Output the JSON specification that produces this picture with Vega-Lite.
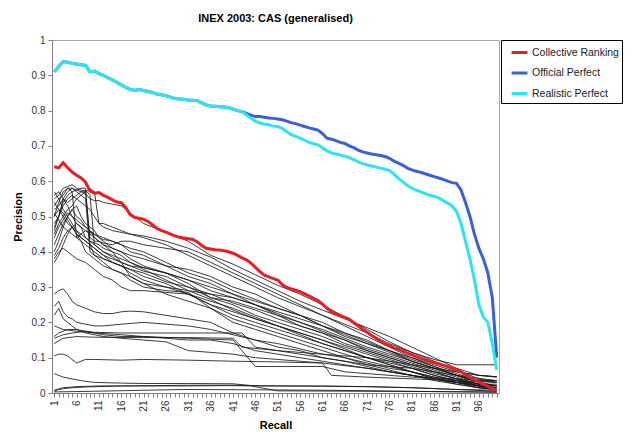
{
  "$schema": "https://vega.github.io/schema/vega-lite/v6.json",
  "width": 447,
  "height": 353,
  "padding": {"left": 12, "top": 13, "right": 3, "bottom": 8},
  "background": "white",
  "title": {"text": "INEX 2003: CAS (generalised)", "fontSize": 11, "fontWeight": "bold", "font": "Liberation Sans", "color": "#000000", "anchor": "middle", "frame": "group", "offset": 11},
  "datasets": {
    "runs": [
      {"s":"U1","r":1,"p":0.50},{"s":"U1","r":2,"p":0.54},{"s":"U1","r":3,"p":0.57},{"s":"U1","r":4,"p":0.58},{"s":"U1","r":5,"p":0.58},{"s":"U1","r":6,"p":0.575},{"s":"U1","r":7,"p":0.57},{"s":"U1","r":8,"p":0.565},{"s":"U1","r":9,"p":0.55},{"s":"U1","r":10,"p":0.545},{"s":"U1","r":11,"p":0.545},{"s":"U1","r":12,"p":0.54},{"s":"U1","r":14,"p":0.535},{"s":"U1","r":16,"p":0.53},{"s":"U1","r":18,"p":0.51},{"s":"U1","r":21,"p":0.48},{"s":"U1","r":26,"p":0.455},{"s":"U1","r":31,"p":0.43},{"s":"U1","r":36,"p":0.39},{"s":"U1","r":41,"p":0.365},{"s":"U1","r":46,"p":0.335},{"s":"U1","r":51,"p":0.305},{"s":"U1","r":56,"p":0.28},{"s":"U1","r":61,"p":0.25},{"s":"U1","r":66,"p":0.215},{"s":"U1","r":71,"p":0.18},{"s":"U1","r":76,"p":0.145},{"s":"U1","r":81,"p":0.115},{"s":"U1","r":86,"p":0.095},{"s":"U1","r":91,"p":0.08},{"s":"U1","r":96,"p":0.08},{"s":"U1","r":100,"p":0.08},
      {"s":"U2","r":1,"p":0.55},{"s":"U2","r":2,"p":0.56},{"s":"U2","r":3,"p":0.58},{"s":"U2","r":4,"p":0.585},{"s":"U2","r":5,"p":0.59},{"s":"U2","r":6,"p":0.58},{"s":"U2","r":7,"p":0.575},{"s":"U2","r":8,"p":0.57},{"s":"U2","r":9,"p":0.44},{"s":"U2","r":10,"p":0.43},{"s":"U2","r":11,"p":0.43},{"s":"U2","r":12,"p":0.425},{"s":"U2","r":14,"p":0.42},{"s":"U2","r":16,"p":0.43},{"s":"U2","r":18,"p":0.43},{"s":"U2","r":21,"p":0.42},{"s":"U2","r":26,"p":0.41},{"s":"U2","r":31,"p":0.40},{"s":"U2","r":36,"p":0.37},{"s":"U2","r":41,"p":0.34},{"s":"U2","r":46,"p":0.31},{"s":"U2","r":51,"p":0.28},{"s":"U2","r":56,"p":0.25},{"s":"U2","r":61,"p":0.22},{"s":"U2","r":66,"p":0.19},{"s":"U2","r":71,"p":0.16},{"s":"U2","r":76,"p":0.13},{"s":"U2","r":81,"p":0.10},{"s":"U2","r":86,"p":0.075},{"s":"U2","r":91,"p":0.05},{"s":"U2","r":96,"p":0.03},{"s":"U2","r":100,"p":0.02},
      {"s":"U3","r":1,"p":0.57},{"s":"U3","r":2,"p":0.55},{"s":"U3","r":3,"p":0.56},{"s":"U3","r":4,"p":0.58},{"s":"U3","r":5,"p":0.57},{"s":"U3","r":6,"p":0.44},{"s":"U3","r":7,"p":0.45},{"s":"U3","r":8,"p":0.46},{"s":"U3","r":9,"p":0.45},{"s":"U3","r":10,"p":0.44},{"s":"U3","r":11,"p":0.43},{"s":"U3","r":12,"p":0.42},{"s":"U3","r":14,"p":0.41},{"s":"U3","r":16,"p":0.40},{"s":"U3","r":18,"p":0.39},{"s":"U3","r":21,"p":0.38},{"s":"U3","r":26,"p":0.36},{"s":"U3","r":31,"p":0.35},{"s":"U3","r":36,"p":0.33},{"s":"U3","r":41,"p":0.30},{"s":"U3","r":46,"p":0.28},{"s":"U3","r":51,"p":0.25},{"s":"U3","r":56,"p":0.22},{"s":"U3","r":61,"p":0.19},{"s":"U3","r":66,"p":0.16},{"s":"U3","r":71,"p":0.14},{"s":"U3","r":76,"p":0.12},{"s":"U3","r":81,"p":0.09},{"s":"U3","r":86,"p":0.07},{"s":"U3","r":91,"p":0.05},{"s":"U3","r":96,"p":0.03},{"s":"U3","r":100,"p":0.01},
      {"s":"U4","r":1,"p":0.52},{"s":"U4","r":2,"p":0.53},{"s":"U4","r":3,"p":0.55},{"s":"U4","r":4,"p":0.54},{"s":"U4","r":5,"p":0.55},{"s":"U4","r":6,"p":0.56},{"s":"U4","r":7,"p":0.57},{"s":"U4","r":8,"p":0.575},{"s":"U4","r":9,"p":0.56},{"s":"U4","r":10,"p":0.42},{"s":"U4","r":11,"p":0.41},{"s":"U4","r":12,"p":0.40},{"s":"U4","r":14,"p":0.39},{"s":"U4","r":16,"p":0.38},{"s":"U4","r":18,"p":0.37},{"s":"U4","r":21,"p":0.355},{"s":"U4","r":26,"p":0.34},{"s":"U4","r":31,"p":0.32},{"s":"U4","r":36,"p":0.29},{"s":"U4","r":41,"p":0.27},{"s":"U4","r":46,"p":0.25},{"s":"U4","r":51,"p":0.22},{"s":"U4","r":56,"p":0.19},{"s":"U4","r":61,"p":0.17},{"s":"U4","r":66,"p":0.14},{"s":"U4","r":71,"p":0.12},{"s":"U4","r":76,"p":0.10},{"s":"U4","r":81,"p":0.08},{"s":"U4","r":86,"p":0.06},{"s":"U4","r":91,"p":0.04},{"s":"U4","r":96,"p":0.02},{"s":"U4","r":100,"p":0.01},
      {"s":"U5","r":1,"p":0.45},{"s":"U5","r":2,"p":0.48},{"s":"U5","r":3,"p":0.50},{"s":"U5","r":4,"p":0.52},{"s":"U5","r":5,"p":0.53},{"s":"U5","r":6,"p":0.55},{"s":"U5","r":7,"p":0.56},{"s":"U5","r":8,"p":0.57},{"s":"U5","r":9,"p":0.58},{"s":"U5","r":10,"p":0.57},{"s":"U5","r":11,"p":0.48},{"s":"U5","r":12,"p":0.48},{"s":"U5","r":14,"p":0.47},{"s":"U5","r":16,"p":0.46},{"s":"U5","r":18,"p":0.45},{"s":"U5","r":21,"p":0.44},{"s":"U5","r":26,"p":0.42},{"s":"U5","r":31,"p":0.39},{"s":"U5","r":36,"p":0.36},{"s":"U5","r":41,"p":0.33},{"s":"U5","r":46,"p":0.30},{"s":"U5","r":51,"p":0.27},{"s":"U5","r":56,"p":0.245},{"s":"U5","r":61,"p":0.22},{"s":"U5","r":66,"p":0.195},{"s":"U5","r":71,"p":0.17},{"s":"U5","r":76,"p":0.14},{"s":"U5","r":81,"p":0.115},{"s":"U5","r":86,"p":0.09},{"s":"U5","r":91,"p":0.065},{"s":"U5","r":96,"p":0.04},{"s":"U5","r":100,"p":0.03},
      {"s":"U6","r":1,"p":0.48},{"s":"U6","r":2,"p":0.50},{"s":"U6","r":3,"p":0.53},{"s":"U6","r":4,"p":0.55},{"s":"U6","r":5,"p":0.56},{"s":"U6","r":6,"p":0.55},{"s":"U6","r":7,"p":0.54},{"s":"U6","r":8,"p":0.53},{"s":"U6","r":9,"p":0.52},{"s":"U6","r":10,"p":0.50},{"s":"U6","r":11,"p":0.48},{"s":"U6","r":12,"p":0.47},{"s":"U6","r":14,"p":0.46},{"s":"U6","r":16,"p":0.455},{"s":"U6","r":18,"p":0.45},{"s":"U6","r":21,"p":0.445},{"s":"U6","r":26,"p":0.43},{"s":"U6","r":31,"p":0.41},{"s":"U6","r":36,"p":0.385},{"s":"U6","r":41,"p":0.35},{"s":"U6","r":46,"p":0.32},{"s":"U6","r":51,"p":0.29},{"s":"U6","r":56,"p":0.26},{"s":"U6","r":61,"p":0.235},{"s":"U6","r":66,"p":0.21},{"s":"U6","r":71,"p":0.185},{"s":"U6","r":76,"p":0.16},{"s":"U6","r":81,"p":0.13},{"s":"U6","r":86,"p":0.10},{"s":"U6","r":91,"p":0.07},{"s":"U6","r":96,"p":0.05},{"s":"U6","r":100,"p":0.046},
      {"s":"U7","r":1,"p":0.40},{"s":"U7","r":2,"p":0.43},{"s":"U7","r":3,"p":0.47},{"s":"U7","r":4,"p":0.50},{"s":"U7","r":5,"p":0.52},{"s":"U7","r":6,"p":0.50},{"s":"U7","r":7,"p":0.49},{"s":"U7","r":8,"p":0.47},{"s":"U7","r":9,"p":0.46},{"s":"U7","r":10,"p":0.45},{"s":"U7","r":11,"p":0.44},{"s":"U7","r":12,"p":0.435},{"s":"U7","r":14,"p":0.43},{"s":"U7","r":16,"p":0.42},{"s":"U7","r":18,"p":0.41},{"s":"U7","r":21,"p":0.40},{"s":"U7","r":26,"p":0.37},{"s":"U7","r":31,"p":0.34},{"s":"U7","r":36,"p":0.32},{"s":"U7","r":41,"p":0.29},{"s":"U7","r":46,"p":0.265},{"s":"U7","r":51,"p":0.24},{"s":"U7","r":56,"p":0.22},{"s":"U7","r":61,"p":0.19},{"s":"U7","r":66,"p":0.165},{"s":"U7","r":71,"p":0.14},{"s":"U7","r":76,"p":0.115},{"s":"U7","r":81,"p":0.09},{"s":"U7","r":86,"p":0.07},{"s":"U7","r":91,"p":0.05},{"s":"U7","r":96,"p":0.035},{"s":"U7","r":100,"p":0.035},
      {"s":"U8","r":1,"p":0.37},{"s":"U8","r":2,"p":0.39},{"s":"U8","r":3,"p":0.42},{"s":"U8","r":4,"p":0.45},{"s":"U8","r":5,"p":0.47},{"s":"U8","r":6,"p":0.48},{"s":"U8","r":7,"p":0.47},{"s":"U8","r":8,"p":0.44},{"s":"U8","r":9,"p":0.43},{"s":"U8","r":10,"p":0.42},{"s":"U8","r":11,"p":0.41},{"s":"U8","r":12,"p":0.40},{"s":"U8","r":14,"p":0.385},{"s":"U8","r":16,"p":0.37},{"s":"U8","r":18,"p":0.36},{"s":"U8","r":21,"p":0.345},{"s":"U8","r":26,"p":0.33},{"s":"U8","r":31,"p":0.30},{"s":"U8","r":36,"p":0.28},{"s":"U8","r":41,"p":0.255},{"s":"U8","r":46,"p":0.235},{"s":"U8","r":51,"p":0.21},{"s":"U8","r":56,"p":0.19},{"s":"U8","r":61,"p":0.17},{"s":"U8","r":66,"p":0.15},{"s":"U8","r":71,"p":0.12},{"s":"U8","r":76,"p":0.10},{"s":"U8","r":81,"p":0.08},{"s":"U8","r":86,"p":0.06},{"s":"U8","r":91,"p":0.04},{"s":"U8","r":96,"p":0.025},{"s":"U8","r":100,"p":0.025},
      {"s":"U9","r":1,"p":0.53},{"s":"U9","r":2,"p":0.55},{"s":"U9","r":3,"p":0.52},{"s":"U9","r":4,"p":0.50},{"s":"U9","r":5,"p":0.48},{"s":"U9","r":6,"p":0.46},{"s":"U9","r":7,"p":0.45},{"s":"U9","r":8,"p":0.44},{"s":"U9","r":9,"p":0.43},{"s":"U9","r":10,"p":0.425},{"s":"U9","r":11,"p":0.42},{"s":"U9","r":12,"p":0.41},{"s":"U9","r":14,"p":0.40},{"s":"U9","r":16,"p":0.39},{"s":"U9","r":18,"p":0.37},{"s":"U9","r":21,"p":0.35},{"s":"U9","r":26,"p":0.32},{"s":"U9","r":31,"p":0.29},{"s":"U9","r":36,"p":0.265},{"s":"U9","r":41,"p":0.235},{"s":"U9","r":46,"p":0.21},{"s":"U9","r":51,"p":0.19},{"s":"U9","r":56,"p":0.165},{"s":"U9","r":61,"p":0.14},{"s":"U9","r":66,"p":0.12},{"s":"U9","r":71,"p":0.10},{"s":"U9","r":76,"p":0.08},{"s":"U9","r":81,"p":0.06},{"s":"U9","r":86,"p":0.04},{"s":"U9","r":91,"p":0.025},{"s":"U9","r":96,"p":0.015},{"s":"U9","r":100,"p":0.01},
      {"s":"U10","r":1,"p":0.56},{"s":"U10","r":2,"p":0.57},{"s":"U10","r":3,"p":0.55},{"s":"U10","r":4,"p":0.53},{"s":"U10","r":5,"p":0.50},{"s":"U10","r":6,"p":0.48},{"s":"U10","r":7,"p":0.47},{"s":"U10","r":8,"p":0.46},{"s":"U10","r":9,"p":0.455},{"s":"U10","r":10,"p":0.45},{"s":"U10","r":11,"p":0.445},{"s":"U10","r":12,"p":0.44},{"s":"U10","r":14,"p":0.43},{"s":"U10","r":16,"p":0.42},{"s":"U10","r":18,"p":0.40},{"s":"U10","r":21,"p":0.39},{"s":"U10","r":26,"p":0.36},{"s":"U10","r":31,"p":0.33},{"s":"U10","r":36,"p":0.31},{"s":"U10","r":41,"p":0.28},{"s":"U10","r":46,"p":0.25},{"s":"U10","r":51,"p":0.225},{"s":"U10","r":56,"p":0.20},{"s":"U10","r":61,"p":0.175},{"s":"U10","r":66,"p":0.15},{"s":"U10","r":71,"p":0.125},{"s":"U10","r":76,"p":0.105},{"s":"U10","r":81,"p":0.085},{"s":"U10","r":86,"p":0.065},{"s":"U10","r":91,"p":0.045},{"s":"U10","r":96,"p":0.025},{"s":"U10","r":100,"p":0.015},
      {"s":"U11","r":1,"p":0.51},{"s":"U11","r":2,"p":0.49},{"s":"U11","r":3,"p":0.47},{"s":"U11","r":4,"p":0.46},{"s":"U11","r":5,"p":0.45},{"s":"U11","r":6,"p":0.44},{"s":"U11","r":7,"p":0.43},{"s":"U11","r":8,"p":0.42},{"s":"U11","r":9,"p":0.41},{"s":"U11","r":10,"p":0.40},{"s":"U11","r":11,"p":0.39},{"s":"U11","r":12,"p":0.38},{"s":"U11","r":14,"p":0.37},{"s":"U11","r":16,"p":0.36},{"s":"U11","r":18,"p":0.35},{"s":"U11","r":21,"p":0.33},{"s":"U11","r":26,"p":0.31},{"s":"U11","r":31,"p":0.28},{"s":"U11","r":36,"p":0.26},{"s":"U11","r":41,"p":0.24},{"s":"U11","r":46,"p":0.215},{"s":"U11","r":51,"p":0.19},{"s":"U11","r":56,"p":0.17},{"s":"U11","r":61,"p":0.15},{"s":"U11","r":66,"p":0.13},{"s":"U11","r":71,"p":0.11},{"s":"U11","r":76,"p":0.09},{"s":"U11","r":81,"p":0.07},{"s":"U11","r":86,"p":0.05},{"s":"U11","r":91,"p":0.035},{"s":"U11","r":96,"p":0.02},{"s":"U11","r":100,"p":0.01},
      {"s":"U12","r":1,"p":0.46},{"s":"U12","r":2,"p":0.50},{"s":"U12","r":3,"p":0.54},{"s":"U12","r":4,"p":0.56},{"s":"U12","r":5,"p":0.57},{"s":"U12","r":6,"p":0.575},{"s":"U12","r":7,"p":0.58},{"s":"U12","r":8,"p":0.58},{"s":"U12","r":9,"p":0.42},{"s":"U12","r":10,"p":0.41},{"s":"U12","r":11,"p":0.40},{"s":"U12","r":12,"p":0.39},{"s":"U12","r":14,"p":0.37},{"s":"U12","r":16,"p":0.36},{"s":"U12","r":18,"p":0.34},{"s":"U12","r":21,"p":0.32},{"s":"U12","r":26,"p":0.30},{"s":"U12","r":31,"p":0.28},{"s":"U12","r":36,"p":0.25},{"s":"U12","r":41,"p":0.22},{"s":"U12","r":46,"p":0.20},{"s":"U12","r":51,"p":0.18},{"s":"U12","r":56,"p":0.16},{"s":"U12","r":61,"p":0.14},{"s":"U12","r":66,"p":0.12},{"s":"U12","r":71,"p":0.10},{"s":"U12","r":76,"p":0.085},{"s":"U12","r":81,"p":0.07},{"s":"U12","r":86,"p":0.05},{"s":"U12","r":91,"p":0.035},{"s":"U12","r":96,"p":0.02},{"s":"U12","r":100,"p":0.01},
      {"s":"U13","r":1,"p":0.42},{"s":"U13","r":2,"p":0.45},{"s":"U13","r":3,"p":0.48},{"s":"U13","r":4,"p":0.50},{"s":"U13","r":5,"p":0.52},{"s":"U13","r":6,"p":0.53},{"s":"U13","r":7,"p":0.50},{"s":"U13","r":8,"p":0.48},{"s":"U13","r":9,"p":0.47},{"s":"U13","r":10,"p":0.46},{"s":"U13","r":11,"p":0.44},{"s":"U13","r":12,"p":0.43},{"s":"U13","r":14,"p":0.41},{"s":"U13","r":16,"p":0.40},{"s":"U13","r":18,"p":0.38},{"s":"U13","r":21,"p":0.36},{"s":"U13","r":26,"p":0.34},{"s":"U13","r":31,"p":0.31},{"s":"U13","r":36,"p":0.27},{"s":"U13","r":41,"p":0.26},{"s":"U13","r":46,"p":0.24},{"s":"U13","r":51,"p":0.22},{"s":"U13","r":56,"p":0.20},{"s":"U13","r":61,"p":0.18},{"s":"U13","r":66,"p":0.155},{"s":"U13","r":71,"p":0.13},{"s":"U13","r":76,"p":0.11},{"s":"U13","r":81,"p":0.09},{"s":"U13","r":86,"p":0.07},{"s":"U13","r":91,"p":0.05},{"s":"U13","r":96,"p":0.03},{"s":"U13","r":100,"p":0.02},
      {"s":"U14","r":1,"p":0.39},{"s":"U14","r":2,"p":0.41},{"s":"U14","r":3,"p":0.44},{"s":"U14","r":4,"p":0.46},{"s":"U14","r":5,"p":0.47},{"s":"U14","r":6,"p":0.45},{"s":"U14","r":7,"p":0.43},{"s":"U14","r":8,"p":0.40},{"s":"U14","r":9,"p":0.39},{"s":"U14","r":10,"p":0.38},{"s":"U14","r":11,"p":0.37},{"s":"U14","r":12,"p":0.36},{"s":"U14","r":14,"p":0.35},{"s":"U14","r":16,"p":0.34},{"s":"U14","r":18,"p":0.33},{"s":"U14","r":21,"p":0.31},{"s":"U14","r":26,"p":0.28},{"s":"U14","r":31,"p":0.26},{"s":"U14","r":36,"p":0.24},{"s":"U14","r":41,"p":0.21},{"s":"U14","r":46,"p":0.19},{"s":"U14","r":51,"p":0.17},{"s":"U14","r":56,"p":0.15},{"s":"U14","r":61,"p":0.13},{"s":"U14","r":66,"p":0.11},{"s":"U14","r":71,"p":0.09},{"s":"U14","r":76,"p":0.075},{"s":"U14","r":81,"p":0.06},{"s":"U14","r":86,"p":0.04},{"s":"U14","r":91,"p":0.03},{"s":"U14","r":96,"p":0.015},{"s":"U14","r":100,"p":0.01},
      {"s":"U15","r":1,"p":0.50},{"s":"U15","r":2,"p":0.52},{"s":"U15","r":3,"p":0.50},{"s":"U15","r":4,"p":0.48},{"s":"U15","r":5,"p":0.47},{"s":"U15","r":6,"p":0.46},{"s":"U15","r":7,"p":0.44},{"s":"U15","r":8,"p":0.43},{"s":"U15","r":9,"p":0.42},{"s":"U15","r":10,"p":0.39},{"s":"U15","r":11,"p":0.38},{"s":"U15","r":12,"p":0.37},{"s":"U15","r":14,"p":0.35},{"s":"U15","r":16,"p":0.34},{"s":"U15","r":18,"p":0.32},{"s":"U15","r":21,"p":0.30},{"s":"U15","r":26,"p":0.29},{"s":"U15","r":31,"p":0.285},{"s":"U15","r":36,"p":0.24},{"s":"U15","r":41,"p":0.20},{"s":"U15","r":46,"p":0.18},{"s":"U15","r":51,"p":0.16},{"s":"U15","r":56,"p":0.14},{"s":"U15","r":61,"p":0.12},{"s":"U15","r":66,"p":0.10},{"s":"U15","r":71,"p":0.08},{"s":"U15","r":76,"p":0.065},{"s":"U15","r":81,"p":0.05},{"s":"U15","r":86,"p":0.035},{"s":"U15","r":91,"p":0.025},{"s":"U15","r":96,"p":0.015},{"s":"U15","r":100,"p":0.01},
      {"s":"U16","r":1,"p":0.44},{"s":"U16","r":2,"p":0.47},{"s":"U16","r":3,"p":0.49},{"s":"U16","r":4,"p":0.51},{"s":"U16","r":5,"p":0.50},{"s":"U16","r":6,"p":0.49},{"s":"U16","r":7,"p":0.48},{"s":"U16","r":8,"p":0.47},{"s":"U16","r":9,"p":0.46},{"s":"U16","r":10,"p":0.44},{"s":"U16","r":11,"p":0.43},{"s":"U16","r":12,"p":0.42},{"s":"U16","r":14,"p":0.40},{"s":"U16","r":16,"p":0.37},{"s":"U16","r":18,"p":0.33},{"s":"U16","r":21,"p":0.31},{"s":"U16","r":26,"p":0.30},{"s":"U16","r":31,"p":0.29},{"s":"U16","r":36,"p":0.28},{"s":"U16","r":41,"p":0.27},{"s":"U16","r":46,"p":0.25},{"s":"U16","r":51,"p":0.23},{"s":"U16","r":56,"p":0.21},{"s":"U16","r":61,"p":0.19},{"s":"U16","r":66,"p":0.17},{"s":"U16","r":71,"p":0.15},{"s":"U16","r":76,"p":0.12},{"s":"U16","r":81,"p":0.10},{"s":"U16","r":86,"p":0.08},{"s":"U16","r":91,"p":0.06},{"s":"U16","r":96,"p":0.05},{"s":"U16","r":100,"p":0.046},
      {"s":"U17","r":1,"p":0.54},{"s":"U17","r":2,"p":0.52},{"s":"U17","r":3,"p":0.51},{"s":"U17","r":4,"p":0.49},{"s":"U17","r":5,"p":0.47},{"s":"U17","r":6,"p":0.45},{"s":"U17","r":7,"p":0.44},{"s":"U17","r":8,"p":0.43},{"s":"U17","r":9,"p":0.42},{"s":"U17","r":10,"p":0.41},{"s":"U17","r":11,"p":0.40},{"s":"U17","r":12,"p":0.39},{"s":"U17","r":14,"p":0.38},{"s":"U17","r":16,"p":0.37},{"s":"U17","r":18,"p":0.36},{"s":"U17","r":21,"p":0.355},{"s":"U17","r":26,"p":0.34},{"s":"U17","r":31,"p":0.32},{"s":"U17","r":36,"p":0.30},{"s":"U17","r":41,"p":0.28},{"s":"U17","r":46,"p":0.26},{"s":"U17","r":51,"p":0.24},{"s":"U17","r":56,"p":0.22},{"s":"U17","r":61,"p":0.20},{"s":"U17","r":66,"p":0.17},{"s":"U17","r":71,"p":0.145},{"s":"U17","r":76,"p":0.12},{"s":"U17","r":81,"p":0.095},{"s":"U17","r":86,"p":0.075},{"s":"U17","r":91,"p":0.055},{"s":"U17","r":96,"p":0.035},{"s":"U17","r":100,"p":0.03},
      {"s":"U18","r":1,"p":0.47},{"s":"U18","r":2,"p":0.50},{"s":"U18","r":3,"p":0.55},{"s":"U18","r":4,"p":0.57},{"s":"U18","r":5,"p":0.58},{"s":"U18","r":6,"p":0.57},{"s":"U18","r":7,"p":0.56},{"s":"U18","r":8,"p":0.55},{"s":"U18","r":9,"p":0.40},{"s":"U18","r":10,"p":0.39},{"s":"U18","r":11,"p":0.385},{"s":"U18","r":12,"p":0.38},{"s":"U18","r":14,"p":0.37},{"s":"U18","r":16,"p":0.36},{"s":"U18","r":18,"p":0.35},{"s":"U18","r":21,"p":0.34},{"s":"U18","r":26,"p":0.315},{"s":"U18","r":31,"p":0.30},{"s":"U18","r":36,"p":0.27},{"s":"U18","r":41,"p":0.25},{"s":"U18","r":46,"p":0.22},{"s":"U18","r":51,"p":0.20},{"s":"U18","r":56,"p":0.18},{"s":"U18","r":61,"p":0.16},{"s":"U18","r":66,"p":0.135},{"s":"U18","r":71,"p":0.115},{"s":"U18","r":76,"p":0.095},{"s":"U18","r":81,"p":0.075},{"s":"U18","r":86,"p":0.055},{"s":"U18","r":91,"p":0.04},{"s":"U18","r":96,"p":0.025},{"s":"U18","r":100,"p":0.02},
      {"s":"U19","r":1,"p":0.38},{"s":"U19","r":2,"p":0.40},{"s":"U19","r":3,"p":0.41},{"s":"U19","r":4,"p":0.40},{"s":"U19","r":5,"p":0.39},{"s":"U19","r":6,"p":0.38},{"s":"U19","r":7,"p":0.375},{"s":"U19","r":8,"p":0.37},{"s":"U19","r":9,"p":0.36},{"s":"U19","r":10,"p":0.35},{"s":"U19","r":11,"p":0.34},{"s":"U19","r":12,"p":0.33},{"s":"U19","r":14,"p":0.32},{"s":"U19","r":16,"p":0.30},{"s":"U19","r":18,"p":0.29},{"s":"U19","r":21,"p":0.29},{"s":"U19","r":26,"p":0.285},{"s":"U19","r":31,"p":0.28},{"s":"U19","r":36,"p":0.25},{"s":"U19","r":41,"p":0.23},{"s":"U19","r":46,"p":0.21},{"s":"U19","r":51,"p":0.19},{"s":"U19","r":56,"p":0.17},{"s":"U19","r":61,"p":0.15},{"s":"U19","r":66,"p":0.125},{"s":"U19","r":71,"p":0.10},{"s":"U19","r":76,"p":0.08},{"s":"U19","r":81,"p":0.06},{"s":"U19","r":86,"p":0.045},{"s":"U19","r":91,"p":0.03},{"s":"U19","r":96,"p":0.02},{"s":"U19","r":100,"p":0.01},
      {"s":"L1","r":1,"p":0.28},{"s":"L1","r":2,"p":0.29},{"s":"L1","r":3,"p":0.295},{"s":"L1","r":4,"p":0.28},{"s":"L1","r":5,"p":0.26},{"s":"L1","r":6,"p":0.25},{"s":"L1","r":8,"p":0.24},{"s":"L1","r":10,"p":0.23},{"s":"L1","r":12,"p":0.225},{"s":"L1","r":14,"p":0.225},{"s":"L1","r":16,"p":0.23},{"s":"L1","r":18,"p":0.232},{"s":"L1","r":21,"p":0.23},{"s":"L1","r":26,"p":0.22},{"s":"L1","r":31,"p":0.21},{"s":"L1","r":36,"p":0.20},{"s":"L1","r":41,"p":0.17},{"s":"L1","r":46,"p":0.15},{"s":"L1","r":51,"p":0.13},{"s":"L1","r":56,"p":0.12},{"s":"L1","r":61,"p":0.10},{"s":"L1","r":66,"p":0.09},{"s":"L1","r":71,"p":0.075},{"s":"L1","r":76,"p":0.06},{"s":"L1","r":81,"p":0.05},{"s":"L1","r":86,"p":0.04},{"s":"L1","r":91,"p":0.03},{"s":"L1","r":96,"p":0.02},{"s":"L1","r":100,"p":0.01},
      {"s":"L2","r":1,"p":0.245},{"s":"L2","r":2,"p":0.26},{"s":"L2","r":3,"p":0.23},{"s":"L2","r":4,"p":0.215},{"s":"L2","r":5,"p":0.21},{"s":"L2","r":6,"p":0.20},{"s":"L2","r":8,"p":0.195},{"s":"L2","r":10,"p":0.19},{"s":"L2","r":12,"p":0.19},{"s":"L2","r":16,"p":0.195},{"s":"L2","r":21,"p":0.20},{"s":"L2","r":26,"p":0.195},{"s":"L2","r":31,"p":0.19},{"s":"L2","r":36,"p":0.18},{"s":"L2","r":41,"p":0.165},{"s":"L2","r":46,"p":0.15},{"s":"L2","r":51,"p":0.14},{"s":"L2","r":56,"p":0.125},{"s":"L2","r":61,"p":0.11},{"s":"L2","r":66,"p":0.10},{"s":"L2","r":71,"p":0.085},{"s":"L2","r":76,"p":0.07},{"s":"L2","r":81,"p":0.06},{"s":"L2","r":86,"p":0.045},{"s":"L2","r":91,"p":0.035},{"s":"L2","r":96,"p":0.025},{"s":"L2","r":100,"p":0.02},
      {"s":"L3","r":1,"p":0.22},{"s":"L3","r":2,"p":0.24},{"s":"L3","r":3,"p":0.21},{"s":"L3","r":4,"p":0.20},{"s":"L3","r":5,"p":0.19},{"s":"L3","r":6,"p":0.18},{"s":"L3","r":8,"p":0.175},{"s":"L3","r":10,"p":0.17},{"s":"L3","r":12,"p":0.165},{"s":"L3","r":16,"p":0.16},{"s":"L3","r":21,"p":0.16},{"s":"L3","r":26,"p":0.155},{"s":"L3","r":31,"p":0.15},{"s":"L3","r":36,"p":0.15},{"s":"L3","r":41,"p":0.14},{"s":"L3","r":46,"p":0.12},{"s":"L3","r":51,"p":0.11},{"s":"L3","r":56,"p":0.10},{"s":"L3","r":61,"p":0.09},{"s":"L3","r":66,"p":0.08},{"s":"L3","r":71,"p":0.07},{"s":"L3","r":76,"p":0.06},{"s":"L3","r":81,"p":0.05},{"s":"L3","r":86,"p":0.04},{"s":"L3","r":91,"p":0.03},{"s":"L3","r":96,"p":0.02},{"s":"L3","r":100,"p":0.01},
      {"s":"L4","r":1,"p":0.155},{"s":"L4","r":3,"p":0.165},{"s":"L4","r":5,"p":0.17},{"s":"L4","r":8,"p":0.175},{"s":"L4","r":10,"p":0.172},{"s":"L4","r":16,"p":0.17},{"s":"L4","r":21,"p":0.17},{"s":"L4","r":31,"p":0.17},{"s":"L4","r":41,"p":0.17},{"s":"L4","r":43,"p":0.17},{"s":"L4","r":46,"p":0.13},{"s":"L4","r":51,"p":0.12},{"s":"L4","r":61,"p":0.11},{"s":"L4","r":71,"p":0.10},{"s":"L4","r":81,"p":0.08},{"s":"L4","r":91,"p":0.06},{"s":"L4","r":96,"p":0.05},{"s":"L4","r":100,"p":0.045},
      {"s":"L5","r":1,"p":0.14},{"s":"L5","r":3,"p":0.155},{"s":"L5","r":6,"p":0.16},{"s":"L5","r":10,"p":0.158},{"s":"L5","r":21,"p":0.157},{"s":"L5","r":31,"p":0.157},{"s":"L5","r":41,"p":0.155},{"s":"L5","r":43,"p":0.13},{"s":"L5","r":51,"p":0.12},{"s":"L5","r":61,"p":0.10},{"s":"L5","r":71,"p":0.08},{"s":"L5","r":81,"p":0.07},{"s":"L5","r":91,"p":0.05},{"s":"L5","r":100,"p":0.035},
      {"s":"L6","r":1,"p":0.16},{"s":"L6","r":2,"p":0.17},{"s":"L6","r":4,"p":0.18},{"s":"L6","r":6,"p":0.18},{"s":"L6","r":8,"p":0.17},{"s":"L6","r":10,"p":0.165},{"s":"L6","r":12,"p":0.16},{"s":"L6","r":16,"p":0.155},{"s":"L6","r":21,"p":0.15},{"s":"L6","r":26,"p":0.145},{"s":"L6","r":31,"p":0.12},{"s":"L6","r":36,"p":0.115},{"s":"L6","r":41,"p":0.11},{"s":"L6","r":46,"p":0.10},{"s":"L6","r":51,"p":0.095},{"s":"L6","r":61,"p":0.085},{"s":"L6","r":71,"p":0.07},{"s":"L6","r":81,"p":0.05},{"s":"L6","r":91,"p":0.03},{"s":"L6","r":100,"p":0.015},
      {"s":"L7","r":1,"p":0.105},{"s":"L7","r":2,"p":0.11},{"s":"L7","r":3,"p":0.11},{"s":"L7","r":4,"p":0.105},{"s":"L7","r":5,"p":0.095},{"s":"L7","r":6,"p":0.085},{"s":"L7","r":7,"p":0.09},{"s":"L7","r":8,"p":0.095},{"s":"L7","r":10,"p":0.095},{"s":"L7","r":16,"p":0.093},{"s":"L7","r":21,"p":0.095},{"s":"L7","r":31,"p":0.093},{"s":"L7","r":41,"p":0.09},{"s":"L7","r":51,"p":0.088},{"s":"L7","r":61,"p":0.085},{"s":"L7","r":63,"p":0.05},{"s":"L7","r":71,"p":0.045},{"s":"L7","r":81,"p":0.04},{"s":"L7","r":91,"p":0.035},{"s":"L7","r":100,"p":0.03},
      {"s":"L8","r":1,"p":0.055},{"s":"L8","r":3,"p":0.045},{"s":"L8","r":5,"p":0.04},{"s":"L8","r":7,"p":0.035},{"s":"L8","r":10,"p":0.03},{"s":"L8","r":16,"p":0.028},{"s":"L8","r":21,"p":0.027},{"s":"L8","r":31,"p":0.027},{"s":"L8","r":41,"p":0.026},{"s":"L8","r":46,"p":0.02},{"s":"L8","r":51,"p":0.02},{"s":"L8","r":61,"p":0.019},{"s":"L8","r":71,"p":0.018},{"s":"L8","r":81,"p":0.015},{"s":"L8","r":91,"p":0.01},{"s":"L8","r":100,"p":0.005},
      {"s":"L9","r":1,"p":0.005},{"s":"L9","r":2,"p":0.01},{"s":"L9","r":3,"p":0.012},{"s":"L9","r":5,"p":0.015},{"s":"L9","r":8,"p":0.017},{"s":"L9","r":16,"p":0.02},{"s":"L9","r":31,"p":0.022},{"s":"L9","r":41,"p":0.022},{"s":"L9","r":51,"p":0.02},{"s":"L9","r":61,"p":0.02},{"s":"L9","r":71,"p":0.018},{"s":"L9","r":81,"p":0.015},{"s":"L9","r":91,"p":0.01},{"s":"L9","r":100,"p":0.008},
      {"s":"L10","r":1,"p":0.008},{"s":"L10","r":3,"p":0.015},{"s":"L10","r":6,"p":0.018},{"s":"L10","r":11,"p":0.02},{"s":"L10","r":21,"p":0.02},{"s":"L10","r":31,"p":0.02},{"s":"L10","r":41,"p":0.021},{"s":"L10","r":45,"p":0.02},{"s":"L10","r":51,"p":0.006},{"s":"L10","r":71,"p":0.005},{"s":"L10","r":100,"p":0.003},
      {"s":"L11","r":1,"p":0.003},{"s":"L11","r":10,"p":0.005},{"s":"L11","r":30,"p":0.01},{"s":"L11","r":60,"p":0.008},{"s":"L11","r":100,"p":0.002},
      {"s":"L12","r":1,"p":0.19},{"s":"L12","r":3,"p":0.18},{"s":"L12","r":6,"p":0.175},{"s":"L12","r":10,"p":0.17},{"s":"L12","r":16,"p":0.165},{"s":"L12","r":21,"p":0.16},{"s":"L12","r":31,"p":0.155},{"s":"L12","r":41,"p":0.15},{"s":"L12","r":46,"p":0.075},{"s":"L12","r":61,"p":0.075},{"s":"L12","r":66,"p":0.06},{"s":"L12","r":81,"p":0.045},{"s":"L12","r":91,"p":0.04},{"s":"L12","r":100,"p":0.035}
    ],
    "curves": [
      {"s":"Collective Ranking","r":1,"p":0.641},{"s":"Collective Ranking","r":2,"p":0.638},{"s":"Collective Ranking","r":3,"p":0.652},{"s":"Collective Ranking","r":4,"p":0.638},{"s":"Collective Ranking","r":5,"p":0.626},{"s":"Collective Ranking","r":6,"p":0.617},{"s":"Collective Ranking","r":7,"p":0.609},{"s":"Collective Ranking","r":8,"p":0.597},{"s":"Collective Ranking","r":9,"p":0.572},{"s":"Collective Ranking","r":10,"p":0.566},
      {"s":"Collective Ranking","r":11,"p":0.568},{"s":"Collective Ranking","r":12,"p":0.560},{"s":"Collective Ranking","r":13,"p":0.554},{"s":"Collective Ranking","r":14,"p":0.547},{"s":"Collective Ranking","r":15,"p":0.541},{"s":"Collective Ranking","r":16,"p":0.539},{"s":"Collective Ranking","r":17,"p":0.525},{"s":"Collective Ranking","r":18,"p":0.505},{"s":"Collective Ranking","r":19,"p":0.497},{"s":"Collective Ranking","r":20,"p":0.495},
      {"s":"Collective Ranking","r":21,"p":0.492},{"s":"Collective Ranking","r":22,"p":0.486},{"s":"Collective Ranking","r":23,"p":0.476},{"s":"Collective Ranking","r":24,"p":0.466},{"s":"Collective Ranking","r":25,"p":0.460},{"s":"Collective Ranking","r":26,"p":0.456},{"s":"Collective Ranking","r":27,"p":0.450},{"s":"Collective Ranking","r":28,"p":0.445},{"s":"Collective Ranking","r":29,"p":0.441},{"s":"Collective Ranking","r":30,"p":0.439},
      {"s":"Collective Ranking","r":31,"p":0.437},{"s":"Collective Ranking","r":32,"p":0.435},{"s":"Collective Ranking","r":33,"p":0.428},{"s":"Collective Ranking","r":34,"p":0.418},{"s":"Collective Ranking","r":35,"p":0.410},{"s":"Collective Ranking","r":36,"p":0.408},{"s":"Collective Ranking","r":37,"p":0.406},{"s":"Collective Ranking","r":38,"p":0.405},{"s":"Collective Ranking","r":39,"p":0.403},{"s":"Collective Ranking","r":40,"p":0.400},
      {"s":"Collective Ranking","r":41,"p":0.396},{"s":"Collective Ranking","r":42,"p":0.390},{"s":"Collective Ranking","r":43,"p":0.383},{"s":"Collective Ranking","r":44,"p":0.377},{"s":"Collective Ranking","r":45,"p":0.368},{"s":"Collective Ranking","r":46,"p":0.356},{"s":"Collective Ranking","r":47,"p":0.344},{"s":"Collective Ranking","r":48,"p":0.334},{"s":"Collective Ranking","r":49,"p":0.329},{"s":"Collective Ranking","r":50,"p":0.324},
      {"s":"Collective Ranking","r":51,"p":0.320},{"s":"Collective Ranking","r":52,"p":0.307},{"s":"Collective Ranking","r":53,"p":0.299},{"s":"Collective Ranking","r":54,"p":0.295},{"s":"Collective Ranking","r":55,"p":0.291},{"s":"Collective Ranking","r":56,"p":0.287},{"s":"Collective Ranking","r":57,"p":0.281},{"s":"Collective Ranking","r":58,"p":0.275},{"s":"Collective Ranking","r":59,"p":0.268},{"s":"Collective Ranking","r":60,"p":0.262},
      {"s":"Collective Ranking","r":61,"p":0.252},{"s":"Collective Ranking","r":62,"p":0.240},{"s":"Collective Ranking","r":63,"p":0.230},{"s":"Collective Ranking","r":64,"p":0.225},{"s":"Collective Ranking","r":65,"p":0.219},{"s":"Collective Ranking","r":66,"p":0.214},{"s":"Collective Ranking","r":67,"p":0.209},{"s":"Collective Ranking","r":68,"p":0.199},{"s":"Collective Ranking","r":69,"p":0.190},{"s":"Collective Ranking","r":70,"p":0.180},
      {"s":"Collective Ranking","r":71,"p":0.172},{"s":"Collective Ranking","r":72,"p":0.163},{"s":"Collective Ranking","r":73,"p":0.155},{"s":"Collective Ranking","r":74,"p":0.146},{"s":"Collective Ranking","r":75,"p":0.139},{"s":"Collective Ranking","r":76,"p":0.134},{"s":"Collective Ranking","r":77,"p":0.128},{"s":"Collective Ranking","r":78,"p":0.124},{"s":"Collective Ranking","r":79,"p":0.119},{"s":"Collective Ranking","r":80,"p":0.113},
      {"s":"Collective Ranking","r":81,"p":0.108},{"s":"Collective Ranking","r":82,"p":0.103},{"s":"Collective Ranking","r":83,"p":0.098},{"s":"Collective Ranking","r":84,"p":0.094},{"s":"Collective Ranking","r":85,"p":0.090},{"s":"Collective Ranking","r":86,"p":0.086},{"s":"Collective Ranking","r":87,"p":0.083},{"s":"Collective Ranking","r":88,"p":0.079},{"s":"Collective Ranking","r":89,"p":0.075},{"s":"Collective Ranking","r":90,"p":0.070},
      {"s":"Collective Ranking","r":91,"p":0.066},{"s":"Collective Ranking","r":92,"p":0.060},{"s":"Collective Ranking","r":93,"p":0.052},{"s":"Collective Ranking","r":94,"p":0.044},{"s":"Collective Ranking","r":95,"p":0.037},{"s":"Collective Ranking","r":96,"p":0.031},{"s":"Collective Ranking","r":97,"p":0.025},{"s":"Collective Ranking","r":98,"p":0.019},{"s":"Collective Ranking","r":99,"p":0.013},{"s":"Collective Ranking","r":100,"p":0.008},
      {"s":"Official Perfect","r":1,"p":0.91},{"s":"Official Perfect","r":2,"p":0.925},{"s":"Official Perfect","r":3,"p":0.939},{"s":"Official Perfect","r":4,"p":0.937},{"s":"Official Perfect","r":5,"p":0.934},{"s":"Official Perfect","r":6,"p":0.932},{"s":"Official Perfect","r":7,"p":0.930},{"s":"Official Perfect","r":8,"p":0.928},{"s":"Official Perfect","r":9,"p":0.910},{"s":"Official Perfect","r":10,"p":0.912},
      {"s":"Official Perfect","r":11,"p":0.905},{"s":"Official Perfect","r":12,"p":0.900},{"s":"Official Perfect","r":13,"p":0.893},{"s":"Official Perfect","r":14,"p":0.887},{"s":"Official Perfect","r":15,"p":0.880},{"s":"Official Perfect","r":16,"p":0.873},{"s":"Official Perfect","r":17,"p":0.866},{"s":"Official Perfect","r":18,"p":0.860},{"s":"Official Perfect","r":19,"p":0.857},{"s":"Official Perfect","r":20,"p":0.860},
      {"s":"Official Perfect","r":21,"p":0.857},{"s":"Official Perfect","r":22,"p":0.854},{"s":"Official Perfect","r":23,"p":0.851},{"s":"Official Perfect","r":24,"p":0.847},{"s":"Official Perfect","r":25,"p":0.845},{"s":"Official Perfect","r":26,"p":0.842},{"s":"Official Perfect","r":27,"p":0.838},{"s":"Official Perfect","r":28,"p":0.834},{"s":"Official Perfect","r":29,"p":0.833},{"s":"Official Perfect","r":30,"p":0.832},
      {"s":"Official Perfect","r":31,"p":0.830},{"s":"Official Perfect","r":32,"p":0.829},{"s":"Official Perfect","r":33,"p":0.828},{"s":"Official Perfect","r":34,"p":0.822},{"s":"Official Perfect","r":35,"p":0.816},{"s":"Official Perfect","r":36,"p":0.813},{"s":"Official Perfect","r":37,"p":0.812},{"s":"Official Perfect","r":38,"p":0.811},{"s":"Official Perfect","r":39,"p":0.810},{"s":"Official Perfect","r":40,"p":0.808},
      {"s":"Official Perfect","r":41,"p":0.804},{"s":"Official Perfect","r":42,"p":0.800},{"s":"Official Perfect","r":43,"p":0.797},{"s":"Official Perfect","r":44,"p":0.792},{"s":"Official Perfect","r":45,"p":0.787},{"s":"Official Perfect","r":46,"p":0.783},{"s":"Official Perfect","r":47,"p":0.783},{"s":"Official Perfect","r":48,"p":0.781},{"s":"Official Perfect","r":49,"p":0.779},{"s":"Official Perfect","r":50,"p":0.778},
      {"s":"Official Perfect","r":51,"p":0.776},{"s":"Official Perfect","r":52,"p":0.774},{"s":"Official Perfect","r":53,"p":0.770},{"s":"Official Perfect","r":54,"p":0.766},{"s":"Official Perfect","r":55,"p":0.763},{"s":"Official Perfect","r":56,"p":0.759},{"s":"Official Perfect","r":57,"p":0.755},{"s":"Official Perfect","r":58,"p":0.751},{"s":"Official Perfect","r":59,"p":0.748},{"s":"Official Perfect","r":60,"p":0.745},
      {"s":"Official Perfect","r":61,"p":0.735},{"s":"Official Perfect","r":62,"p":0.722},{"s":"Official Perfect","r":63,"p":0.719},{"s":"Official Perfect","r":64,"p":0.715},{"s":"Official Perfect","r":65,"p":0.710},{"s":"Official Perfect","r":66,"p":0.707},{"s":"Official Perfect","r":67,"p":0.700},{"s":"Official Perfect","r":68,"p":0.695},{"s":"Official Perfect","r":69,"p":0.688},{"s":"Official Perfect","r":70,"p":0.683},
      {"s":"Official Perfect","r":71,"p":0.680},{"s":"Official Perfect","r":72,"p":0.677},{"s":"Official Perfect","r":73,"p":0.675},{"s":"Official Perfect","r":74,"p":0.673},{"s":"Official Perfect","r":75,"p":0.670},{"s":"Official Perfect","r":76,"p":0.665},{"s":"Official Perfect","r":77,"p":0.657},{"s":"Official Perfect","r":78,"p":0.651},{"s":"Official Perfect","r":79,"p":0.645},{"s":"Official Perfect","r":80,"p":0.637},
      {"s":"Official Perfect","r":81,"p":0.632},{"s":"Official Perfect","r":82,"p":0.628},{"s":"Official Perfect","r":83,"p":0.625},{"s":"Official Perfect","r":84,"p":0.621},{"s":"Official Perfect","r":85,"p":0.617},{"s":"Official Perfect","r":86,"p":0.613},{"s":"Official Perfect","r":87,"p":0.609},{"s":"Official Perfect","r":88,"p":0.605},{"s":"Official Perfect","r":89,"p":0.600},{"s":"Official Perfect","r":90,"p":0.596},
      {"s":"Official Perfect","r":91,"p":0.594},{"s":"Official Perfect","r":92,"p":0.575},{"s":"Official Perfect","r":93,"p":0.540},{"s":"Official Perfect","r":94,"p":0.500},{"s":"Official Perfect","r":95,"p":0.450},{"s":"Official Perfect","r":96,"p":0.410},{"s":"Official Perfect","r":97,"p":0.380},{"s":"Official Perfect","r":98,"p":0.340},{"s":"Official Perfect","r":99,"p":0.270},{"s":"Official Perfect","r":100,"p":0.100},
      {"s":"Realistic Perfect","r":1,"p":0.91},{"s":"Realistic Perfect","r":2,"p":0.925},{"s":"Realistic Perfect","r":3,"p":0.939},{"s":"Realistic Perfect","r":4,"p":0.937},{"s":"Realistic Perfect","r":5,"p":0.934},{"s":"Realistic Perfect","r":6,"p":0.932},{"s":"Realistic Perfect","r":7,"p":0.930},{"s":"Realistic Perfect","r":8,"p":0.928},{"s":"Realistic Perfect","r":9,"p":0.910},{"s":"Realistic Perfect","r":10,"p":0.912},
      {"s":"Realistic Perfect","r":11,"p":0.905},{"s":"Realistic Perfect","r":12,"p":0.900},{"s":"Realistic Perfect","r":13,"p":0.893},{"s":"Realistic Perfect","r":14,"p":0.887},{"s":"Realistic Perfect","r":15,"p":0.880},{"s":"Realistic Perfect","r":16,"p":0.873},{"s":"Realistic Perfect","r":17,"p":0.866},{"s":"Realistic Perfect","r":18,"p":0.860},{"s":"Realistic Perfect","r":19,"p":0.857},{"s":"Realistic Perfect","r":20,"p":0.860},
      {"s":"Realistic Perfect","r":21,"p":0.857},{"s":"Realistic Perfect","r":22,"p":0.854},{"s":"Realistic Perfect","r":23,"p":0.851},{"s":"Realistic Perfect","r":24,"p":0.847},{"s":"Realistic Perfect","r":25,"p":0.845},{"s":"Realistic Perfect","r":26,"p":0.842},{"s":"Realistic Perfect","r":27,"p":0.838},{"s":"Realistic Perfect","r":28,"p":0.834},{"s":"Realistic Perfect","r":29,"p":0.833},{"s":"Realistic Perfect","r":30,"p":0.832},
      {"s":"Realistic Perfect","r":31,"p":0.830},{"s":"Realistic Perfect","r":32,"p":0.829},{"s":"Realistic Perfect","r":33,"p":0.828},{"s":"Realistic Perfect","r":34,"p":0.822},{"s":"Realistic Perfect","r":35,"p":0.816},{"s":"Realistic Perfect","r":36,"p":0.813},{"s":"Realistic Perfect","r":37,"p":0.812},{"s":"Realistic Perfect","r":38,"p":0.811},{"s":"Realistic Perfect","r":39,"p":0.810},{"s":"Realistic Perfect","r":40,"p":0.808},
      {"s":"Realistic Perfect","r":41,"p":0.804},{"s":"Realistic Perfect","r":42,"p":0.800},{"s":"Realistic Perfect","r":43,"p":0.797},{"s":"Realistic Perfect","r":44,"p":0.788},{"s":"Realistic Perfect","r":45,"p":0.778},{"s":"Realistic Perfect","r":46,"p":0.770},{"s":"Realistic Perfect","r":47,"p":0.765},{"s":"Realistic Perfect","r":48,"p":0.762},{"s":"Realistic Perfect","r":49,"p":0.760},{"s":"Realistic Perfect","r":50,"p":0.756},
      {"s":"Realistic Perfect","r":51,"p":0.755},{"s":"Realistic Perfect","r":52,"p":0.750},{"s":"Realistic Perfect","r":53,"p":0.740},{"s":"Realistic Perfect","r":54,"p":0.732},{"s":"Realistic Perfect","r":55,"p":0.727},{"s":"Realistic Perfect","r":56,"p":0.722},{"s":"Realistic Perfect","r":57,"p":0.716},{"s":"Realistic Perfect","r":58,"p":0.710},{"s":"Realistic Perfect","r":59,"p":0.706},{"s":"Realistic Perfect","r":60,"p":0.703},
      {"s":"Realistic Perfect","r":61,"p":0.695},{"s":"Realistic Perfect","r":62,"p":0.686},{"s":"Realistic Perfect","r":63,"p":0.680},{"s":"Realistic Perfect","r":64,"p":0.677},{"s":"Realistic Perfect","r":65,"p":0.674},{"s":"Realistic Perfect","r":66,"p":0.671},{"s":"Realistic Perfect","r":67,"p":0.667},{"s":"Realistic Perfect","r":68,"p":0.661},{"s":"Realistic Perfect","r":69,"p":0.655},{"s":"Realistic Perfect","r":70,"p":0.650},
      {"s":"Realistic Perfect","r":71,"p":0.646},{"s":"Realistic Perfect","r":72,"p":0.643},{"s":"Realistic Perfect","r":73,"p":0.640},{"s":"Realistic Perfect","r":74,"p":0.637},{"s":"Realistic Perfect","r":75,"p":0.634},{"s":"Realistic Perfect","r":76,"p":0.631},{"s":"Realistic Perfect","r":77,"p":0.620},{"s":"Realistic Perfect","r":78,"p":0.608},{"s":"Realistic Perfect","r":79,"p":0.598},{"s":"Realistic Perfect","r":80,"p":0.588},
      {"s":"Realistic Perfect","r":81,"p":0.580},{"s":"Realistic Perfect","r":82,"p":0.575},{"s":"Realistic Perfect","r":83,"p":0.570},{"s":"Realistic Perfect","r":84,"p":0.565},{"s":"Realistic Perfect","r":85,"p":0.560},{"s":"Realistic Perfect","r":86,"p":0.557},{"s":"Realistic Perfect","r":87,"p":0.553},{"s":"Realistic Perfect","r":88,"p":0.545},{"s":"Realistic Perfect","r":89,"p":0.538},{"s":"Realistic Perfect","r":90,"p":0.530},
      {"s":"Realistic Perfect","r":91,"p":0.515},{"s":"Realistic Perfect","r":92,"p":0.480},{"s":"Realistic Perfect","r":93,"p":0.430},{"s":"Realistic Perfect","r":94,"p":0.380},{"s":"Realistic Perfect","r":95,"p":0.320},{"s":"Realistic Perfect","r":96,"p":0.250},{"s":"Realistic Perfect","r":97,"p":0.215},{"s":"Realistic Perfect","r":98,"p":0.200},{"s":"Realistic Perfect","r":99,"p":0.140},{"s":"Realistic Perfect","r":100,"p":0.065}
    ]
  },
  "encoding": {
    "x": {
      "field": "r",
      "type": "quantitative",
      "title": "Recall",
      "scale": {"domain": [0.5, 100.5], "nice": false, "zero": false},
      "axis": {
        "values": [1,2,3,4,5,6,7,8,9,10,11,12,13,14,15,16,17,18,19,20,21,22,23,24,25,26,27,28,29,30,31,32,33,34,35,36,37,38,39,40,41,42,43,44,45,46,47,48,49,50,51,52,53,54,55,56,57,58,59,60,61,62,63,64,65,66,67,68,69,70,71,72,73,74,75,76,77,78,79,80,81,82,83,84,85,86,87,88,89,90,91,92,93,94,95,96,97,98,99,100],
        "labelExpr": "(datum.value - 1) % 5 == 0 ? datum.label : ''",
        "labelAngle": 270,
        "labelOverlap": false,
        "labelPadding": 3,
        "tickSize": 4,
        "titlePadding": 8
      }
    },
    "y": {
      "field": "p",
      "type": "quantitative",
      "title": "Precision",
      "scale": {"domain": [0, 1], "nice": false, "zero": true},
      "axis": {
        "values": [0, 0.1, 0.2, 0.3, 0.4, 0.5, 0.6, 0.7, 0.8, 0.9, 1],
        "format": ".1~f",
        "tickSize": 4,
        "labelPadding": 3,
        "titlePadding": 8
      }
    }
  },
  "layer": [
    {
      "data": {"name": "runs"},
      "mark": {"type": "line", "color": "#1a1a1a", "strokeWidth": 1, "opacity": 0.85},
      "encoding": {"detail": {"field": "s"}}
    },
    {
      "data": {"name": "curves"},
      "mark": {"type": "line", "strokeWidth": 3},
      "encoding": {
        "color": {
          "field": "s",
          "type": "nominal",
          "legend": {"title": null},
          "scale": {"domain": ["Collective Ranking", "Official Perfect", "Realistic Perfect"], "range": ["#ec1c24", "#3b5fd6", "#2fe3f0"]}
        }
      }
    }
  ],
  "config": {
    "font": "Liberation Sans",
    "view": {"stroke": "#a6a6a6", "strokeWidth": 1},
    "axis": {
      "grid": false,
      "domainColor": "#808080",
      "tickColor": "#808080",
      "labelColor": "#333333",
      "labelFont": "Liberation Sans",
      "labelFontSize": 10,
      "titleFont": "Liberation Sans",
      "titleFontSize": 11,
      "titleFontWeight": "bold",
      "titleColor": "#000000"
    },
    "legend": {
      "orient": "right",
      "offset": -2,
      "strokeColor": "#000000",
      "padding": 3,
      "symbolType": "stroke",
      "symbolStrokeWidth": 3,
      "symbolSize": 250,
      "symbolOffset": 6,
      "labelFont": "Liberation Sans",
      "labelFontSize": 10.5,
      "labelColor": "#222222",
      "rowPadding": 4.5,
      "labelOffset": 3
    }
  }
}
